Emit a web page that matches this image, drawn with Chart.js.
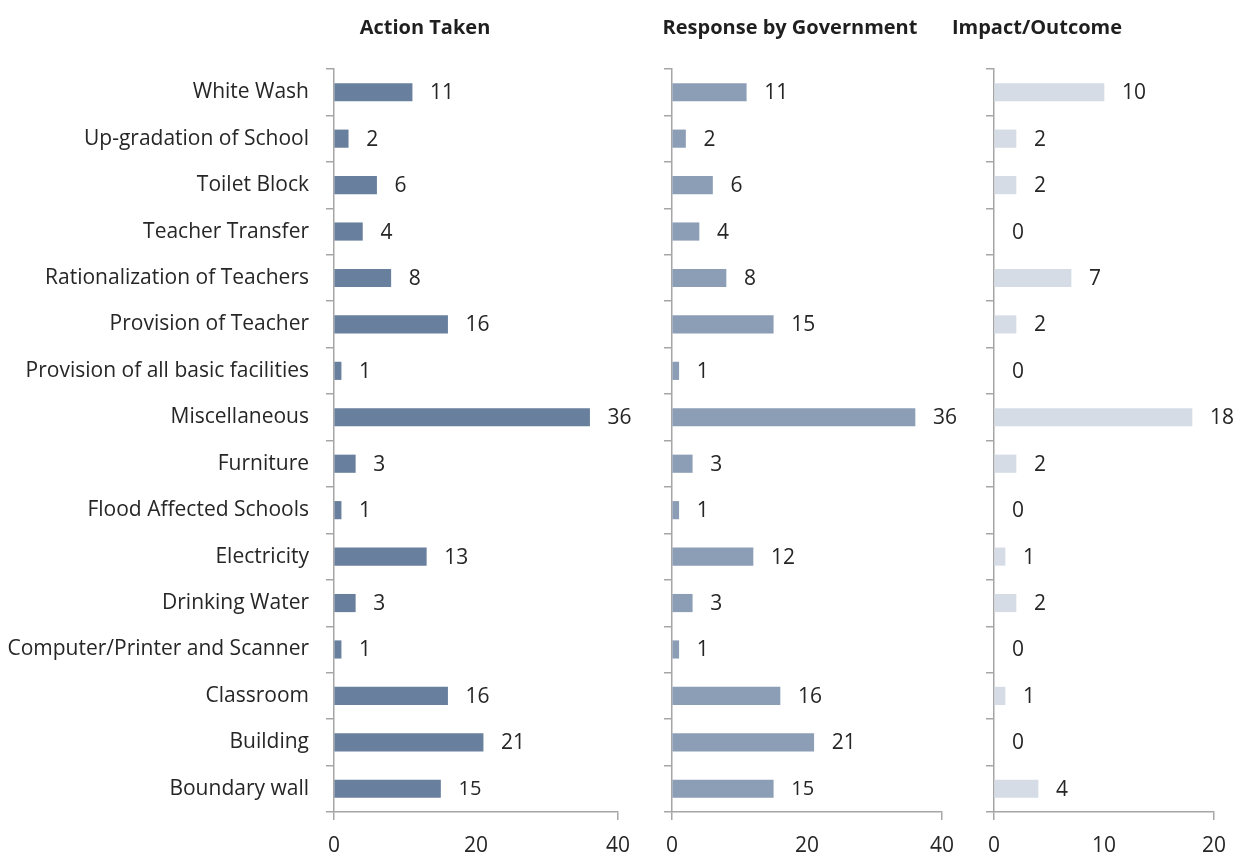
<!DOCTYPE html>
<html>
<head>
<meta charset="utf-8">
<script src="https://cdn.jsdelivr.net/npm/chart.js@4.4.1/dist/chart.umd.min.js"></script>
<style>
  html, body { margin: 0; padding: 0; background: #ffffff; }
  #wrap { position: relative; width: 1233px; height: 854px; overflow: hidden; }
  #wrap canvas { position: absolute; left: 0; top: 0; }
  .title {
    position: absolute; top: 13px; transform: translateX(-50%);
    font: bold 20px "Open Sans", sans-serif; color: #1f1f1f; white-space: nowrap;
  }
</style>
</head>
<body>
<div id="wrap">
  <canvas id="c1" width="1233" height="854"></canvas>
  <canvas id="c2" width="1233" height="854"></canvas>
  <canvas id="c3" width="1233" height="854"></canvas>
  <div class="title" style="left:425px">Action Taken</div>
  <div class="title" style="left:790px">Response by Government</div>
  <div class="title" style="left:1037px">Impact/Outcome</div>
</div>
<script>
// Issue categories, listed top to bottom
const categories = [
  'White Wash', 'Up-gradation of School', 'Toilet Block', 'Teacher Transfer',
  'Rationalization of Teachers', 'Provision of Teacher', 'Provision of all basic facilities',
  'Miscellaneous', 'Furniture', 'Flood Affected Schools', 'Electricity', 'Drinking Water',
  'Computer/Printer and Scanner', 'Classroom', 'Building', 'Boundary wall'
];

// Counts per category for each stage
const actionTaken = [11, 2, 6, 4, 8, 16, 1, 36, 3, 1, 13, 3, 1, 16, 21, 15];
const responseByGovernment = [11, 2, 6, 4, 8, 15, 1, 36, 3, 1, 12, 3, 1, 16, 21, 15];
const impactOutcome = [10, 2, 2, 0, 7, 2, 0, 18, 2, 0, 1, 2, 0, 1, 0, 4];

// Axis ranges and tick steps of the three panels
const actionTicks = [0, 20, 40];
const responseTicks = [0, 20, 40];
const impactTicks = [0, 10, 20];

const FONT = '"Open Sans", sans-serif';
const TEXT = '#262626';
const AXIS = '#a6a6a6';

// Writes each bar's value just past its end
const valueLabels = {
  id: 'valueLabels',
  afterDatasetsDraw(chart, args, opts) {
    const ctx = chart.ctx;
    const meta = chart.getDatasetMeta(0);
    const values = chart.data.datasets[0].data;
    ctx.save();
    ctx.fillStyle = TEXT;
    ctx.textAlign = 'left';
    ctx.textBaseline = 'middle';
    meta.data.forEach((bar, i) => {
      const last = i === values.length - 1;
      ctx.font = `${last && opts.smallLast ? 20 : 21}px ${FONT}`;
      ctx.fillText(String(values[i]), bar.x + 18, bar.y + 1);
    });
    ctx.restore();
  }
};

function makePanel(id, values, ticks, color, area, showCategories, smallLast) {
  const min = ticks[0], max = ticks[ticks.length - 1];
  return new Chart(document.getElementById(id), {
    type: 'bar',
    data: {
      labels: categories,
      datasets: [{
        data: values,
        backgroundColor: color,
        borderWidth: 0,
        barThickness: 17.5
      }]
    },
    plugins: [valueLabels],
    options: {
      indexAxis: 'y',
      responsive: false,
      animation: false,
      events: [],
      layout: { padding: { left: 0, right: 1233 - area.right, top: area.top, bottom: 0 } },
      plugins: {
        legend: { display: false },
        tooltip: { enabled: false },
        title: { display: false },
        valueLabels: { smallLast }
      },
      scales: {
        x: {
          type: 'linear',
          min, max,
          afterBuildTicks(scale) { scale.ticks = ticks.map(v => ({ value: v })); },
          afterFit(scale) {
            scale.height = 854 - area.bottom;
            scale.paddingLeft = 0;
            scale.paddingRight = 0;
          },
          ticks: { color: TEXT, font: { family: FONT, size: 21 }, padding: 13, maxRotation: 0 },
          grid: {
            drawOnChartArea: false,
            drawTicks: true,
            tickLength: 8,
            lineWidth: 1.5,
            tickColor: c => (c.tick && (c.tick.value === min || c.tick.value === max)) ? AXIS : 'rgba(0,0,0,0)'
          },
          border: { display: true, color: AXIS, width: 1.5 }
        },
        y: {
          type: 'category',
          offset: true,
          afterFit(scale) { scale.width = area.left; },
          ticks: {
            color: TEXT,
            font: { family: FONT, size: 21 },
            padding: 17,
            autoSkip: false,
            callback(v, i) { return showCategories ? categories[i] : ''; }
          },
          grid: {
            offset: true,
            drawOnChartArea: false,
            drawTicks: true,
            tickLength: 8,
            color: AXIS,
            lineWidth: 1.5
          },
          border: { display: true, color: AXIS, width: 1.5 }
        }
      }
    }
  });
}

function draw() {
  makePanel('c1', actionTaken, actionTicks, '#687f9d', { left: 334, right: 618, top: 69, bottom: 812 }, true, true);
  makePanel('c2', responseByGovernment, responseTicks, '#8c9db6', { left: 672, right: 942, top: 69, bottom: 812 }, false, true);
  makePanel('c3', impactOutcome, impactTicks, '#d5dce6', { left: 994, right: 1214, top: 69, bottom: 812 }, false, false);
}

if (document.fonts && document.fonts.load) {
  Promise.all([
    document.fonts.load(`21px ${FONT}`),
    document.fonts.load(`bold 20px ${FONT}`)
  ]).then(draw, draw);
} else {
  draw();
}
</script>
</body>
</html>
